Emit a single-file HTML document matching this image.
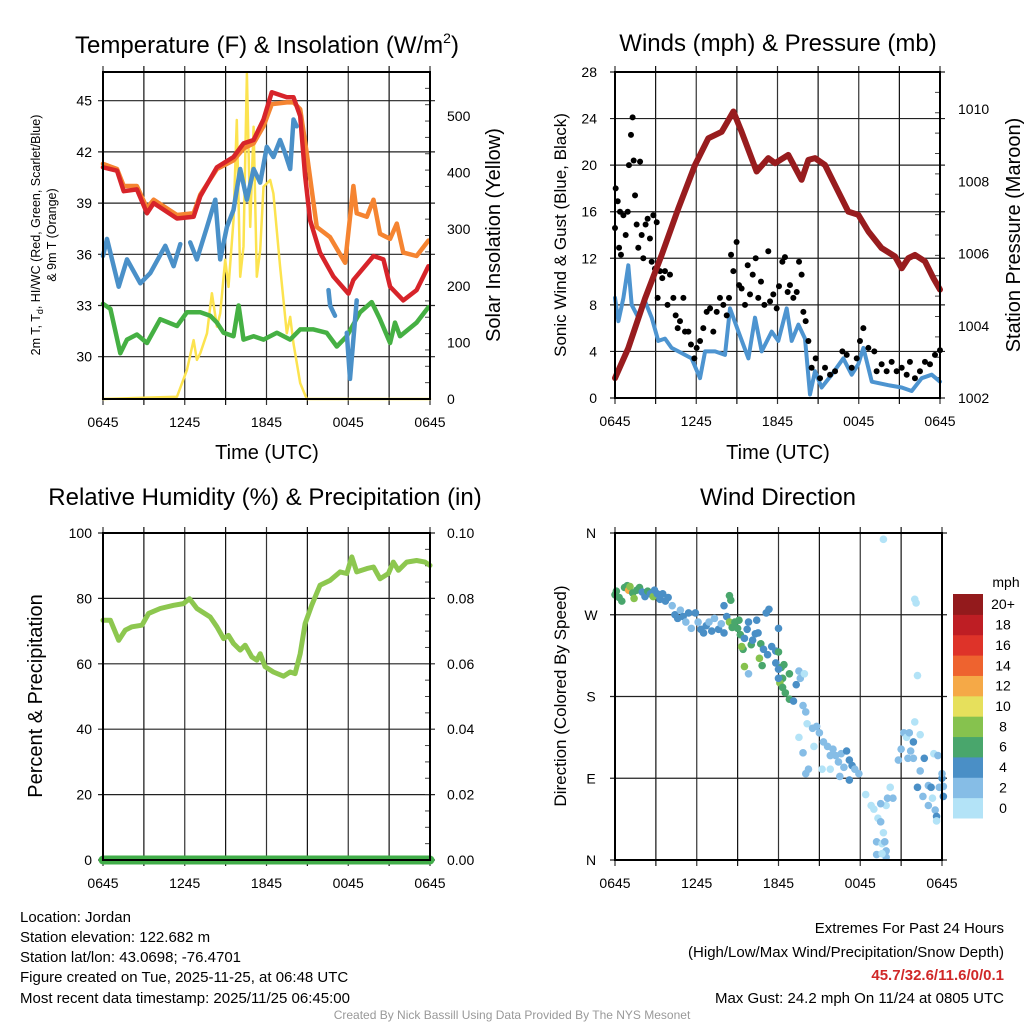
<!DOCTYPE html>
<html><head><meta charset="utf-8"><style>
html,body{margin:0;padding:0;background:#fff}
svg{display:block;font-family:"Liberation Sans",Arial,sans-serif}
</style></head><body>
<svg id="root" xmlns="http://www.w3.org/2000/svg" width="1024" height="1024" viewBox="0 0 1024 1024">
<rect width="1024" height="1024" fill="#fff"/>
<g id="p1"></g>
<g id="p2"></g>
<g id="p3"></g>
<g id="p4"></g>
<g font-size="15" fill="#000">
<text x="20" y="922">Location: Jordan</text>
<text x="20" y="942">Station elevation: 122.682 m</text>
<text x="20" y="962">Station lat/lon: 43.0698; -76.4701</text>
<text x="20" y="982">Figure created on Tue, 2025-11-25, at 06:48 UTC</text>
<text x="20" y="1003">Most recent data timestamp: 2025/11/25 06:45:00</text>
</g>
<g font-size="15" text-anchor="end">
<text x="1004" y="933">Extremes For Past 24 Hours</text>
<text x="1004" y="957">(High/Low/Max Wind/Precipitation/Snow Depth)</text>
<text x="1004" y="980" fill="#d02828" font-weight="bold">45.7/32.6/11.6/0/0.1</text>
<text x="1004" y="1003">Max Gust: 24.2 mph On 11/24 at 0805 UTC</text>
</g>
<text x="512" y="1019" font-size="12" fill="#999" text-anchor="middle">Created By Nick Bassill Using Data Provided By The NYS Mesonet</text>
</svg>
<script>
// ---------- data ----------
const timeTicks = ["0645","1245","1845","0045","0645"];
const tempTickLabels = [30,33,36,39,42,45];
const solarTickLabels = [0,100,200,300,400,500];
const windTickLabels = [0,4,8,12,16,20,24,28];
const presTickLabels = [1002,1004,1006,1008,1010];
const rhTickLabels = [0,20,40,60,80,100];
const precipTickLabels = ["0.00","0.02","0.04","0.06","0.08","0.10"];
const dirTickLabels = ["N","E","S","W","N"];
const speedBinLabels = ["0","2","4","6","8","10","12","14","16","18","20+"];
const speedBinColors = ["#b3e3f7","#86bde6","#4a8fc6","#49a66c","#86c24e","#e6e05c","#f5a947","#ee632f","#de3329","#be1e24","#931a1c"];

const redT = [0,1.03,1.52,2.49,3.23,3.72,5.43,6.65,7.14,8.36,9.58,10.31,11.05,11.78,12.39,13.49,13.98,14.47,14.83,15.2,15.93,16.91,18.01,18.38,19.85,20.58,21.07,22.04,23.02,23.88];
const redV = [41.1,40.9,39.7,39.8,38.4,39.0,38.1,38.2,39.4,41.1,41.7,42.5,42.7,43.9,45.5,45.2,45.2,44.1,40.6,38.0,36.1,34.7,33.7,34.5,35.9,35.7,34.1,33.3,33.9,35.3];
const orT = [0,1.03,1.52,2.49,3.23,3.72,5.43,6.65,7.14,8.36,9.58,10.31,11.05,11.78,12.39,13.49,13.98,14.47,14.96,15.69,16.67,17.77,18.38,18.62,19.36,19.85,20.33,21.07,21.56,22.04,23.02,23.88];
const orV = [41.3,41.0,40.0,40.0,38.7,39.2,38.3,38.4,39.5,41.0,41.5,42.2,42.5,43.5,44.8,44.9,44.9,44.5,41.9,37.6,37.0,35.5,40.0,38.4,38.2,39.2,37.2,36.9,37.8,36.1,35.9,36.8];
const blueT = [0,0.29,1.15,1.76,2.74,3.47,4.57,5.18,5.67,null,6.4,6.89,7.63,8.24,8.6,9.09,9.58,10.07,10.56,11.05,11.54,12.02,12.51,13.0,13.37,13.74,13.98,14.22,null,16.55,16.67,17.03,null,17.89,18.13,18.62];
const blueV = [35.9,36.9,34.1,35.7,34.3,34.9,36.5,35.3,36.6,null,36.7,35.7,37.6,39.2,35.7,37.6,38.6,41.0,39.2,41.0,40.2,42.3,41.7,42.7,41.9,41.0,43.9,43.5,null,33.9,33.0,32.4,null,31.4,28.7,33.3];
const grT = [0,0.54,1.27,1.76,2.49,3.23,4.2,5.43,6.16,7.14,7.87,8.36,8.85,9.58,9.95,10.31,11.05,11.78,12.76,13.74,14.47,15.45,16.42,17.16,17.89,18.87,19.72,20.33,21.07,21.43,21.8,23.02,23.88];
const grV = [33.1,32.8,30.2,31.0,31.3,30.8,32.2,31.8,32.6,32.6,32.4,32.0,31.4,31.2,33.0,31.0,31.2,31.0,31.4,31.0,31.6,31.6,31.4,30.6,31.2,32.6,33.2,32.2,30.8,32.0,31.2,32.0,32.9];
const solT = [0,5.43,6.16,6.65,6.89,7.14,7.63,7.99,8.36,8.6,8.97,9.21,9.58,9.82,10.07,10.31,10.56,10.8,11.05,11.29,11.54,11.78,12.27,12.51,13.0,13.49,13.74,13.98,14.47,14.96,24];
const solV = [0,4,51,104,69,81,116,187,128,151,246,198,316,493,216,269,575,304,481,216,263,375,387,363,234,116,145,98,28,0,0];

const sonicT = [0,0.25,0.62,0.98,1.23,1.72,2.22,2.71,3.2,3.69,4.18,4.68,5.17,5.66,6.28,6.65,7.39,8.12,8.49,9.11,9.85,10.34,10.83,11.57,12.06,12.68,13.05,13.54,14.03,14.4,14.77,15.26,16.0,16.86,17.48,17.97,18.34,18.96,20.19,21.17,21.91,22.65,23.39,24];
const sonicV = [8.6,6.6,8.6,11.4,8.0,6.9,8.3,6.9,4.9,5.1,4.3,4.0,3.7,3.4,1.7,4.0,4.0,3.7,7.7,5.7,3.4,6.9,4.0,5.7,4.9,7.7,4.9,6.3,5.1,0.3,2.3,0.9,2.0,3.4,2.0,2.9,4.3,1.4,1.1,0.9,0.6,1.7,2.0,1.4];
const gustT = [0,0.05,0.2,0.37,0.3,0.44,0.62,0.79,0.94,1.03,1.18,1.3,1.38,1.48,1.6,1.72,1.85,1.97,2.09,2.26,2.41,2.58,2.71,2.83,2.95,3.08,3.15,3.32,3.49,3.69,3.88,4.06,4.31,4.48,4.63,4.8,5.05,5.17,5.42,5.61,5.86,6.03,6.28,6.52,6.77,7.02,7.26,7.51,7.75,8.0,8.25,8.42,8.57,8.74,8.98,9.16,9.35,9.6,9.8,9.97,10.17,10.39,10.58,10.78,11.03,11.32,11.45,11.69,11.94,12.11,12.36,12.55,12.75,12.92,13.17,13.42,13.59,13.78,13.91,14.08,14.28,14.52,14.82,15.14,15.51,15.88,16.25,16.79,17.11,17.48,17.85,18.09,18.34,18.71,19.15,19.32,19.69,20.06,20.43,20.8,21.17,21.54,21.78,22.15,22.52,22.89,23.26,23.63,24];
const gustV = [14.6,18.0,16.9,16.0,12.9,12.3,15.7,14.0,16.0,20.0,22.6,24.1,20.4,17.4,14.9,12.9,20.3,14.0,12.0,14.9,15.4,13.7,11.7,15.7,11.1,15.1,8.6,10.9,10.3,10.9,8.0,10.6,8.6,7.1,6.0,6.6,8.6,5.7,5.7,4.6,3.4,4.3,4.9,6.0,7.4,7.7,5.7,7.4,8.6,8.0,7.1,8.6,12.3,10.9,13.4,9.7,9.4,8.0,11.4,8.9,10.6,12.0,8.6,10.0,8.0,12.6,8.3,8.9,7.7,9.6,11.7,12.1,9.1,9.7,8.6,9.1,11.7,10.6,7.4,6.6,4.9,2.6,3.4,1.7,2.6,2.0,2.3,4.0,3.7,2.6,3.4,4.9,6.0,4.3,4.0,2.3,2.9,2.3,3.1,2.3,2.6,2.0,3.1,1.7,2.3,3.1,2.9,3.7,4.1];
const presT = [0,0.98,2.22,3.45,4.68,5.91,6.89,7.88,8.74,9.35,10.46,11.32,11.82,12.8,13.78,14.28,14.77,15.51,16.49,17.23,17.97,18.71,19.69,20.68,21.17,21.66,22.15,22.89,23.51,24];
const presV = [1002.55,1003.38,1004.76,1005.96,1007.25,1008.45,1009.19,1009.37,1009.93,1009.37,1008.27,1008.64,1008.5,1008.73,1008.04,1008.59,1008.64,1008.45,1007.71,1007.16,1007.07,1006.61,1006.15,1005.92,1005.59,1005.87,1005.96,1005.78,1005.32,1005.0];

const rhT = [0,0.54,1.15,1.64,2.13,2.86,3.35,4.2,5.18,5.91,6.35,6.89,7.87,8.36,8.85,9.21,9.58,10.07,10.44,10.92,11.29,11.54,11.9,12.51,13.25,13.74,14.1,14.47,14.83,15.32,15.93,16.67,17.4,17.89,18.26,18.62,19.36,19.85,20.33,20.95,21.31,21.68,22.29,23.02,23.63,24];
const rhV = [73.3,73.3,67.2,70.3,71.3,71.8,75.4,76.9,77.9,78.4,79.9,76.9,74.3,71.3,67.7,68.7,66.2,64.2,65.7,62.1,61.1,63.1,59.1,57.5,56.2,57.5,57.0,63.1,72.3,77.9,84.0,85.5,88.1,87.6,92.7,88.1,89.1,89.6,86.0,87.6,91.1,88.6,91.1,91.6,91.1,90.1];
const precipT = [0,24];
const precipV = [0,0];

const dirT = [0,0.1,0.3,0.5,0.7,0.9,1.0,1.1,1.3,1.4,1.6,1.8,2.0,2.2,2.4,2.6,2.8,2.9,3.1,3.3,3.5,3.7,3.9,4.2,4.4,4.6,4.8,5.0,5.2,5.4,5.6,5.9,6.1,6.3,6.5,6.7,6.9,7.1,7.3,7.6,7.8,8.0,8.0,8.2,8.4,8.5,8.4,8.6,8.8,9.0,9.1,9.2,9.4,9.3,9.5,9.7,9.8,10.0,10.1,10.3,10.5,10.7,10.6,10.8,9.5,9.8,10.4,10.9,11.1,11.3,11.2,11.5,11.8,11.8,12.0,12.0,12.2,12.3,12.4,12.1,12.3,12.5,12.8,13.1,12.8,13.5,13.6,13.9,13.8,13.3,12.0,12.0,14.0,14.1,14.5,14.8,15.0,14.6,15.3,15.6,15.8,16.0,16.2,16.4,16.6,16.8,17.0,17.2,17.4,17.2,17.6,17.9,15.2,15.8,16.5,13.5,13.8,14.2,14.0,18.4,18.8,19.0,19.3,19.5,19.9,20.0,19.7,19.2,19.6,19.8,19.9,19.2,19.9,19.6,20.2,19.5,19.7,22.0,22.1,22.2,20.4,20.8,21.0,21.2,21.4,21.6,21.7,21.5,21.9,22.0,21.9,22.4,22.2,22.6,23.0,23.2,23.3,23.5,23.6,23.4,23.7,24.0,24.0,23.8,24.1,24.1,22.7,23.0,23.6,22.4];
const dirD = [292,296,289,285,300,302,297,301,294,288,297,300,295,290,296,293,290,297,293,287,293,285,289,280,270,266,275,268,262,272,255,272,262,254,250,258,262,252,266,254,260,250,280,268,291,286,262,256,262,255,264,248,232,235,244,254,262,237,242,249,250,238,222,214,213,205,264,232,272,276,226,235,230,217,229,255,212,200,215,195,190,184,177,175,205,208,200,205,170,193,210,200,163,150,145,147,140,125,130,125,115,122,115,108,117,102,120,110,104,88,100,95,100,100,92,135,118,100,95,72,60,56,46,42,60,68,30,20,18,20,10,6,3,7,80,62,353,287,283,203,68,110,122,140,135,140,120,112,130,152,112,98,80,70,82,80,68,55,48,117,115,90,95,80,70,81,112,60,43,138];
const dirS = [7,7,6,7,6,7,12,8,7,8,7,6,4,5,6,4,8,4,4,5,4,5,4,3,4,4,2,4,3,4,2,4,3,4,4,4,3,4,2,4,3,4,4,4,6,6,8,6,7,6,6,6,6,8,4,4,4,6,4,4,4,6,8,7,8,2,4,4,4,4,4,4,4,4,6,4,6,6,6,8,6,6,6,4,6,2,2,0,2,4,4,4,2,0,2,2,2,0,2,2,2,2,2,2,2,2,4,4,4,4,2,2,0,0,2,0,2,2,2,0,0,0,0,2,0,2,0,2,0,2,2,2,2,0,0,2,0,0,0,0,2,2,2,2,0,2,2,2,4,0,2,2,4,2,2,4,0,2,4,0,2,4,2,2,4,2,4,2,0,0];

// ---------- helpers ----------
const NS = "http://www.w3.org/2000/svg";
function mk(parent, tag, attrs, txt){
  const e = document.createElementNS(NS, tag);
  for (const k in attrs) e.setAttribute(k, attrs[k]);
  if (txt !== undefined) e.textContent = txt;
  parent.appendChild(e);
  return e;
}
function linScale(d0,d1,r0,r1){return v => r0 + (v-d0)/(d1-d0)*(r1-r0);}
function pathD(ts, vs, sx, sy){
  let d = "", pen = false;
  for (let i=0;i<ts.length;i++){
    if (ts[i]===null || vs[i]===null){pen=false;continue;}
    d += (pen?"L":"M") + sx(ts[i]).toFixed(1) + "," + sy(vs[i]).toFixed(1);
    pen = true;
  }
  return d;
}
function frame(g, x0, y0, w, h, nameBase){
  for (let k=0;k<=8;k++){
    const x = x0 + k*w/8;
    const ln = mk(g,"line",{x1:x,y1:y0-6,x2:x,y2:y0+h+6,stroke:(k%2? "#111":"#333"),"stroke-width":1.2});
    
    
  }
  const labs = mk(g,"g",{"font-size":14,"text-anchor":"middle"});
  
  
  timeTicks.forEach((t,i)=>{
    const tx = mk(labs,"text",{x:x0+i*w/4,y:y0+h+28},t);
    
    
  });
}
function hgrid(g, x0, w, ys){
  ys.forEach(y=>{
    const ln = mk(g,"line",{x1:x0-5,y1:y,x2:x0+w+5,y2:y,stroke:"#222","stroke-width":1.2});
    
    
  });
}
function box(g,x0,y0,w,h){
  const r = mk(g,"rect",{x:x0,y:y0,width:w,height:h,fill:"none",stroke:"#000","stroke-width":2});
  
  
}
function minorTicks(g, x, y0, h, n){
  for (let k=1;k<n;k++){
    const y = y0 + k*h/n;
    const t = mk(g,"line",{x1:x-5,y1:y,x2:x,y2:y,stroke:"#444","stroke-width":1});
    
    
  }
}
function seriesLine(g, ts, vs, sx, sy, color, width, name){
  const p = mk(g,"path",{d:pathD(ts,vs,sx,sy),fill:"none",stroke:color,"stroke-width":width,"stroke-linejoin":"round","stroke-linecap":"round"});
  
  
}
function title(g, x, y, txt, name, size){
  const t = mk(g,"text",{x:x,y:y,"font-size":size||24,"text-anchor":"middle"},txt);
  
  
  return t;
}
function vtitle(g, x, y, txt, name, size){
  const t = mk(g,"text",{x:x,y:y,"font-size":size||20,"text-anchor":"middle",transform:`rotate(-90 ${x} ${y})`},txt);
  
  
  return t;
}

// ---------- Panel 1 ----------
(function(){
  const g = document.getElementById("p1");
  const x0=103,y0=72,w=327,h=327;
  const sx = linScale(0,24,x0,x0+w);
  const sy = linScale(30,45,356.7,100.7);
  const sr = linScale(0,500,399,116);
  frame(g,x0,y0,w,h,"temp");
  hgrid(g,x0,w,tempTickLabels.map(sy));
  minorTicks(g,x0+w,y0,h,20);
  seriesLine(g,solT,solV,sx,sr,"#fce34f",2.5,"solar-insolation-line");
  seriesLine(g,grT,grV,sx,sy,"#45b043",4.5,"heat-index-windchill-line");
  seriesLine(g,orT,orV,sx,sy,"#f58431",4.5,"temperature-9m-line");
  seriesLine(g,redT,redV,sx,sy,"#d7242a",4.5,"temperature-2m-line");
  seriesLine(g,blueT,blueV,sx,sy,"#4a90c8",4.5,"dewpoint-line");
  box(g,x0,y0,w,h);
  const ll = mk(g,"g",{"font-size":14,"text-anchor":"end"});
   
  tempTickLabels.forEach(v=>{const t=mk(ll,"text",{x:92,y:sy(v)+5},v);
     });
  const rl = mk(g,"g",{"font-size":14});
   
  solarTickLabels.forEach(v=>{const t=mk(rl,"text",{x:447,y:sr(v)+5},v);
     });
  const t = title(g,267,53,"Temperature (F) & Insolation (W/m","temp-panel-title");
  mk(t,"tspan",{"font-size":14,dy:-10},"2"); mk(t,"tspan",{dy:10},")");
  title(g,267,459,"Time (UTC)","temp-x-axis-title",20);
  const lt = mk(g,"text",{x:40,y:235,"font-size":12.5,"text-anchor":"middle",transform:"rotate(-90 40 235)"});
   
  lt.textContent = "2m T, T";
  mk(lt,"tspan",{"font-size":9,dy:3},"d"); mk(lt,"tspan",{dy:-3},", HI/WC (Red, Green, Scarlet/Blue)");
  vtitle(g,56,235,"& 9m T (Orange)","temp-y-axis-title-line2",12.5);
  vtitle(g,500,235,"Solar Insolation (Yellow)","solar-y-axis-title",20);
})();

// ---------- Panel 2 ----------
(function(){
  const g = document.getElementById("p2");
  const x0=615,y0=72,w=325,h=326;
  const sx = linScale(0,24,x0,x0+w);
  const sy = linScale(0,28,y0+h,y0);
  const sp = linScale(1002,1010,398,109);
  frame(g,x0,y0,w,h,"winds");
  hgrid(g,x0,w,windTickLabels.map(sy));
  minorTicks(g,x0+w,y0,h,16);
  seriesLine(g,sonicT,sonicV,sx,sy,"#4d94d0",4,"sonic-wind-line");
  const gg = mk(g,"g",{fill:"#000"});
   
  for (let i=0;i<gustT.length;i++){
    const c = mk(gg,"circle",{cx:sx(gustT[i]),cy:sy(gustV[i]),r:3});
    
    
  }
  seriesLine(g,presT,presV,sx,sp,"#981c1e",6,"pressure-line");
  box(g,x0,y0,w,h);
  const ll = mk(g,"g",{"font-size":14,"text-anchor":"end"});
   
  windTickLabels.forEach(v=>{const t=mk(ll,"text",{x:597,y:sy(v)+5},v);
     });
  const rl = mk(g,"g",{"font-size":14});
   
  presTickLabels.forEach(v=>{const t=mk(rl,"text",{x:958,y:sp(v)+5},v);
     });
  title(g,778,51,"Winds (mph) & Pressure (mb)","winds-panel-title");
  title(g,778,459,"Time (UTC)","winds-x-axis-title",20);
  vtitle(g,566,235,"Sonic Wind & Gust (Blue, Black)","wind-y-axis-title",17);
  vtitle(g,1020,235,"Station Pressure (Maroon)","pressure-y-axis-title",20);
})();

// ---------- Panel 3 ----------
(function(){
  const g = document.getElementById("p3");
  const x0=103,y0=533,w=327,h=327;
  const sx = linScale(0,24,x0,x0+w);
  const sy = linScale(0,100,y0+h,y0);
  const sq = linScale(0,0.1,y0+h,y0);
  frame(g,x0,y0,w,h,"rh");
  hgrid(g,x0,w,rhTickLabels.map(sy));
  minorTicks(g,x0+w,y0,h,20);
  seriesLine(g,rhT,rhV,sx,sy,"#8dc74f",5,"relative-humidity-line");
  seriesLine(g,precipT,precipV,sx,sq,"#41ad49",9,"precipitation-line");
  box(g,x0,y0,w,h);
  const ll = mk(g,"g",{"font-size":14,"text-anchor":"end"});
   
  rhTickLabels.forEach(v=>{const t=mk(ll,"text",{x:92,y:sy(v)+5},v);
     });
  const rl = mk(g,"g",{"font-size":14});
   
  precipTickLabels.forEach((v,i)=>{const t=mk(rl,"text",{x:447,y:sq(i*0.02)+5},v);
     });
  title(g,265,505,"Relative Humidity (%) & Precipitation (in)","rh-panel-title");
  vtitle(g,42,696,"Percent & Precipitation","rh-y-axis-title",20);
})();

// ---------- Panel 4 ----------
(function(){
  const g = document.getElementById("p4");
  const x0=615,y0=533,w=327,h=327;
  const sx = linScale(0,24,x0,x0+w);
  const sy = linScale(0,360,y0+h,y0);
  frame(g,x0,y0,w,h,"dir");
  hgrid(g,x0,w,[0,90,180,270,360].map(sy));
  const pg = mk(g,"g",{});
   
  for (let i=0;i<dirT.length;i++){
    const bin = Math.min(10, Math.floor(dirS[i]/2));
    const c = mk(pg,"circle",{cx:sx(dirT[i]),cy:sy(dirD[i]),r:3.8,fill:speedBinColors[bin]});
    
    
  }
  box(g,x0,y0,w,h);
  const ll = mk(g,"g",{"font-size":14,"text-anchor":"middle"});
   
  dirTickLabels.forEach((v,i)=>{const t=mk(ll,"text",{x:591,y:sy(i*90)+5},v);
     });
  title(g,778,505,"Wind Direction","dir-panel-title");
  vtitle(g,566,696,"Direction (Colored By Speed)","dir-y-axis-title",17);
  const cb = mk(g,"g",{});
   
  const top=594, bot=818, bh=(bot-top)/speedBinColors.length;
  speedBinColors.forEach((c,i)=>{
    const r = mk(cb,"rect",{x:953,y:bot-(i+1)*bh,width:30,height:bh+0.5,fill:c});
     
    const t = mk(cb,"text",{x:1003,y:bot-(i+0.5)*bh+5,"font-size":14,"text-anchor":"middle"},speedBinLabels[i]);
     
  });
  const u = mk(cb,"text",{x:1006,y:587,"font-size":14,"text-anchor":"middle"},"mph");
   
})();
</script>
</body></html>
